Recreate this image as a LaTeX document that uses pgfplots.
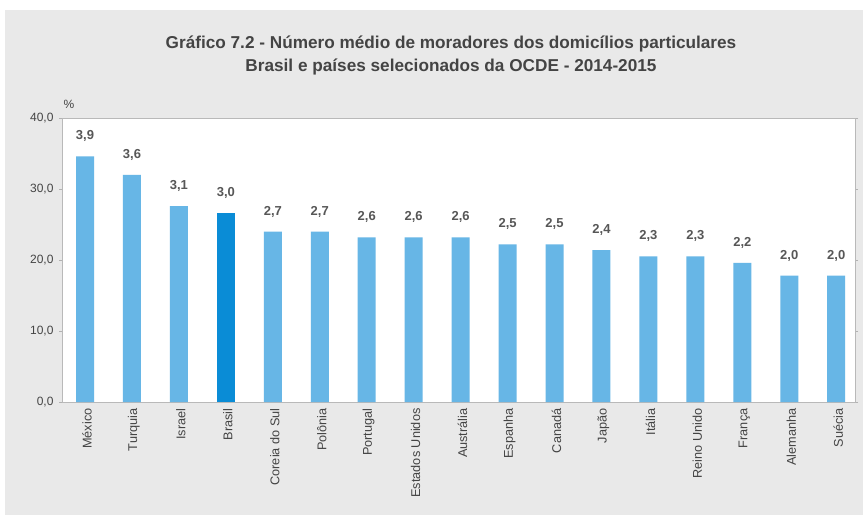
\documentclass[border=0pt]{standalone}
\usepackage{pgfplots}
\pgfplotsset{compat=1.18}
\usepackage{pgfplotstable}
\usepackage{fontspec}
\setmainfont{Liberation Sans}
\definecolor{bg}{HTML}{E9E9E9}
\definecolor{barlight}{HTML}{67B6E6}
\definecolor{bardark}{HTML}{0A8CD6}
\definecolor{txt}{HTML}{444444}

% x = position, h = bar height, lab = value printed above
\pgfplotstableread{
x h lab
0 34.6 3,9
1 32.0 3,6
2 27.6 3,1
4 24.0 2,7
5 24.0 2,7
6 23.2 2,6
7 23.2 2,6
8 23.2 2,6
9 22.2 2,5
10 22.2 2,5
11 21.4 2,4
12 20.5 2,3
13 20.5 2,3
14 19.6 2,2
15 17.8 2,0
16 17.8 2,0
}\outros
\pgfplotstableread{
x h lab
3 26.6 3,0
}\brasil

\begin{document}
\begin{tikzpicture}[x=1pt,y=1pt]
\fill[white] (0,0) rectangle (863,515);
\fill[bg] (5,0) rectangle (863,505);
\node[font=\bfseries\fontsize{17.2}{23}\selectfont, text=txt, align=center]
  at (451,460) {Gráfico 7.2 - Número médio de moradores dos domicílios particulares\\
  Brasil e países selecionados da OCDE - 2014-2015};
\begin{axis}[
  at={(62pt,113pt)}, anchor=south west,
  scale only axis, width=793pt, height=284pt,
  axis background/.style={fill=white},
  axis line style={gray!55},
  xmin=-0.49, xmax=16.4,
  ymin=0, ymax=40,
  ytick={0,10,20,30,40},
  xtick={0,...,16},
  xticklabels={México,Turquia,Israel,Brasil,Coreia do Sul,Polônia,Portugal,Estados Unidos,Austrália,Espanha,Canadá,Japão,Itália,Reino Unido,França,Alemanha,Suécia},
  xticklabel style={rotate=90, anchor=east, font=\fontsize{12.7}{14}\selectfont, text=txt, yshift=-2pt},
  x tick style={draw=none},
  y tick style={gray!60},
  tick align=outside, major tick length=3pt,
  yticklabel style={font=\fontsize{12}{14}\selectfont, text=txt, xshift=-2pt},
  /pgf/number format/.cd, assume math mode=true, use comma, fixed, fixed zerofill, precision=1, /pgfplots/.cd,
  ybar, bar width=18pt, bar shift=0pt,
  nodes near coords={\pgfplotspointmeta},
  point meta=explicit symbolic,
  nodes near coords style={anchor=center, yshift=20pt, font=\fontsize{13}{15}\selectfont\bfseries, text=txt!90},
  clip=false,
]
\addplot[fill=barlight, draw=none] table[x=x, y=h, meta=lab] {\outros};
\addplot[fill=bardark, draw=none] table[x=x, y=h, meta=lab] {\brasil};
\end{axis}
\node[font=\fontsize{12}{14}\selectfont, text=txt] at (69,411) {\%};
\end{tikzpicture}
\end{document}
